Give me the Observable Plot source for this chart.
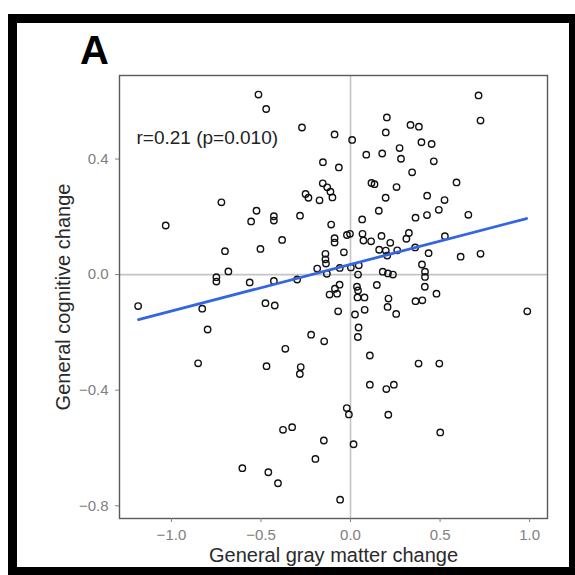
<!DOCTYPE html>
<html><head><meta charset="utf-8">
<script src="https://cdn.jsdelivr.net/npm/d3@7"></script>
<script src="https://cdn.jsdelivr.net/npm/@observablehq/plot@0.6"></script>
<style>
html,body{margin:0;padding:0;background:#fff;overflow:hidden;width:575px;height:575px}
#wrap{position:relative;width:575px;height:575px;overflow:hidden}
#chart{position:absolute;left:0;top:0}
#frame{position:absolute;left:8px;top:14px;width:552px;height:544px;border:9px solid #000;pointer-events:none}
#tag{position:absolute;left:80px;top:30px;font:bold 40px "Liberation Sans",Arial,sans-serif;line-height:1;color:#000}
</style></head>
<body>
<div id="wrap"><div id="chart"></div><div id="frame"></div><div id="tag">A</div></div>
<script>
// General gray matter change (x) for each participant
const gmChange = [
-0.514,-0.471,-0.271,-0.089,0.009,0.203,0.197,0.335,0.382,0.715,0.726,0.396,0.453,0.274,0.282,0.088,0.177,0.465,-0.154,-0.065,0.344,
0.117,0.134,0.257,0.592,-0.155,-0.130,-0.112,-0.101,-0.251,-0.235,-0.173,0.196,0.428,0.525,-0.721,-0.525,-0.555,-0.428,-0.428,
-0.282,0.158,0.493,0.427,0.363,0.065,0.658,-1.032,-0.108,-0.382,-0.701,-0.503,-0.089,-0.089,-0.020,-0.003,0.067,0.072,
0.115,0.173,0.222,0.326,0.312,0.527,0.160,0.197,0.205,0.261,0.361,0.436,0.615,0.726,-0.037,-0.140,-0.140,-0.137,
-0.186,-0.132,-0.060,0.002,0.046,-0.682,-0.749,-0.749,-0.563,-0.428,-0.298,0.180,0.209,0.237,0.042,0.399,0.416,0.416,0.415,
-0.061,-0.087,-0.075,-0.117,0.036,0.042,0.039,0.078,0.147,0.212,0.207,0.255,0.363,0.401,0.480,-0.069,0.025,0.079,0.987,
-1.186,-0.828,-0.475,-0.423,-0.798,-0.851,-0.364,-0.469,-0.278,-0.283,-0.220,-0.147,0.045,0.041,0.108,0.380,0.496,0.108,
0.200,0.242,-0.021,-0.009,0.211,0.501,-0.377,-0.326,-0.149,0.017,-0.196,-0.604,-0.459,-0.405,-0.058
];
// General cognitive change (y) for each participant
const cogChange = [
0.623,0.573,0.509,0.485,0.466,0.544,0.492,0.518,0.512,0.620,0.533,0.458,0.452,0.438,0.401,0.415,0.419,0.392,0.389,0.371,0.354,
0.317,0.313,0.303,0.319,0.316,0.302,0.287,0.267,0.279,0.266,0.257,0.266,0.273,0.258,0.250,0.221,0.184,0.202,0.187,
0.204,0.221,0.224,0.206,0.197,0.191,0.207,0.170,0.173,0.120,0.081,0.089,0.126,0.111,0.137,0.141,0.141,0.118,
0.115,0.134,0.110,0.144,0.124,0.133,0.086,0.083,0.066,0.084,0.094,0.074,0.062,0.072,0.077,0.072,0.053,0.038,
0.021,0.003,0.023,0.025,0.032,0.011,-0.009,-0.024,-0.027,-0.022,-0.017,0.010,0.004,0.000,0.000,0.035,0.010,-0.008,-0.042,
-0.035,-0.049,-0.066,-0.069,-0.042,-0.055,-0.079,-0.079,-0.036,-0.083,-0.112,-0.136,-0.092,-0.089,-0.066,-0.127,-0.138,-0.122,-0.127,
-0.109,-0.118,-0.099,-0.107,-0.190,-0.307,-0.257,-0.317,-0.320,-0.344,-0.208,-0.231,-0.183,-0.216,-0.280,-0.308,-0.308,-0.381,
-0.396,-0.381,-0.462,-0.484,-0.485,-0.546,-0.537,-0.528,-0.574,-0.587,-0.638,-0.670,-0.684,-0.722,-0.779
];
// Fitted regression line (endpoints)
const fitX = [-1.184, 0.983];
const fitY = [-0.156, 0.194];
// Tick values
const xTicks = [-1.0, -0.5, 0.0, 0.5, 1.0];
const yTicks = [-0.8, -0.4, 0.0, 0.4];
const annotation = "r=0.21 (p=0.010)";
const xTitle = "General gray matter change";
const yTitle = "General cognitive change";

const points = gmChange.map((x, i) => ({x, y: cogChange[i]}));
const fit = fitX.map((x, i) => ({x, y: fitY[i]}));
const fmt = d3.format(".1f");

const chart = Plot.plot({
  width: 575,
  height: 575,
  marginLeft: 119,
  marginRight: 28,
  marginTop: 75,
  marginBottom: 57,
  style: {fontFamily: "'Liberation Sans', Arial, sans-serif", background: "transparent", overflow: "visible"},
  x: {domain: [-1.29, 1.10]},
  y: {domain: [-0.844, 0.689]},
  marks: [
    Plot.ruleX([0], {stroke: "#c4c4c4", strokeWidth: 1.6}),
    Plot.ruleY([0], {stroke: "#c4c4c4", strokeWidth: 1.6}),
    Plot.frame({stroke: "#5a5a5a", strokeWidth: 1.4}),
    Plot.axisX({ticks: xTicks, tickFormat: fmt, tickSize: 4, tickPadding: 7, fontSize: 15, color: "#808080", label: null}),
    Plot.axisY({ticks: yTicks, tickFormat: fmt, tickSize: 4, tickPadding: 7, fontSize: 15, color: "#808080", label: null}),
    Plot.dot(points, {x: "x", y: "y", r: 3.2, stroke: "#111", strokeWidth: 1.4, fill: "none"}),
    Plot.line(fit, {x: "x", y: "y", stroke: "#3366e0", strokeWidth: 2.8}),
    Plot.text([annotation], {frameAnchor: "top-left", dx: 17, dy: 62, textAnchor: "start", lineAnchor: "middle", fontSize: 19, fill: "#222"}),
    Plot.text([xTitle], {frameAnchor: "bottom", dy: 37, textAnchor: "middle", lineAnchor: "middle", fontSize: 20, fill: "#2a2a2a"}),
    Plot.text([yTitle], {frameAnchor: "left", dx: -56, rotate: -90, textAnchor: "middle", lineAnchor: "middle", fontSize: 20, fill: "#2a2a2a"})
  ]
});
document.getElementById("chart").appendChild(chart);
</script>
</body></html>
